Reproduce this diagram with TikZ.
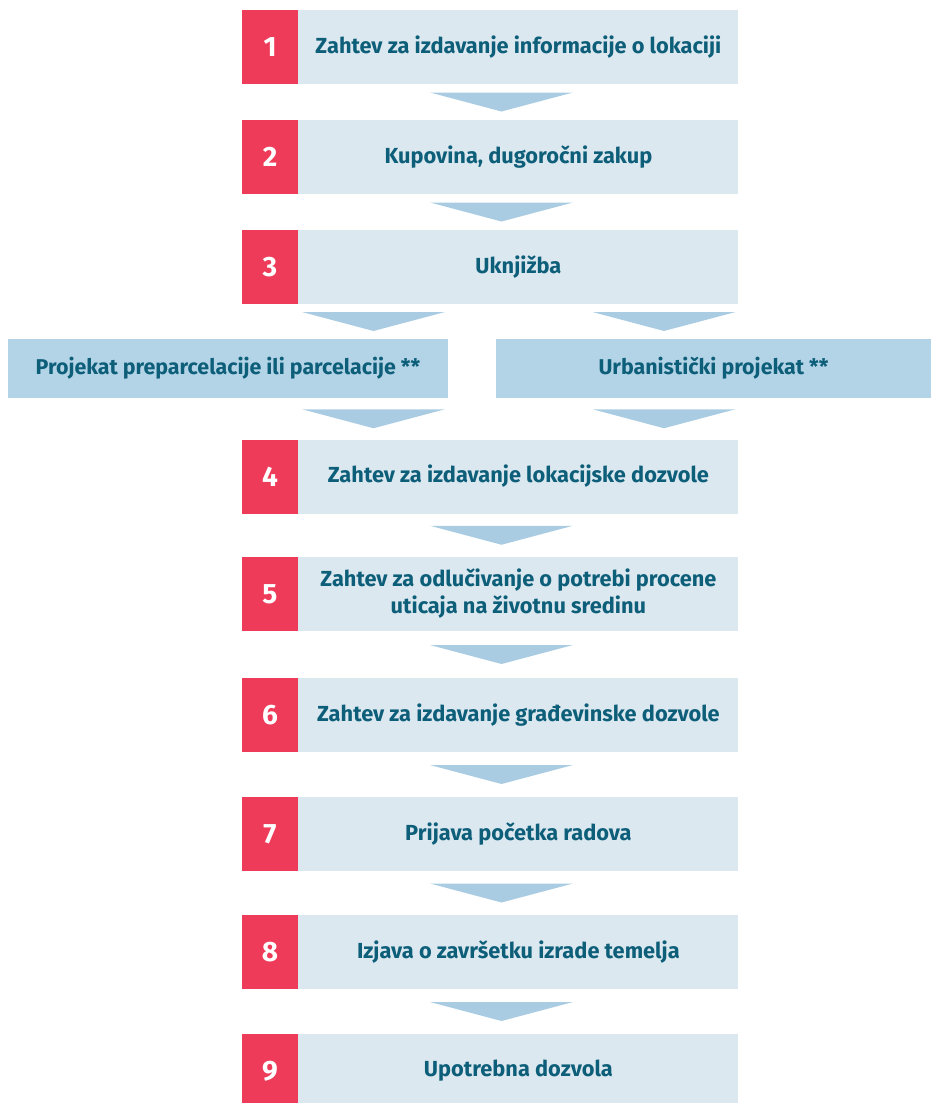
\documentclass[tikz,border=0pt]{standalone}
\usepackage{fontspec}
\setmainfont{Fira Sans}
\usetikzlibrary{positioning,calc}

\definecolor{stepred}{HTML}{EF3B5A}
\definecolor{boxblue}{HTML}{DCE8F0}
\definecolor{sideblue}{HTML}{B3D3E7}
\definecolor{arrowblue}{HTML}{A9CCE3}
\definecolor{textteal}{HTML}{0D5E79}

\tikzset{
	numbox/.style={fill=stepred, text=white, inner sep=0pt,
		minimum width=56pt, minimum height=74pt,
		font=\bfseries\fontsize{28}{30}\selectfont},
	stepbox/.style={fill=boxblue, text=textteal, inner sep=0pt,
		minimum width=440pt, minimum height=74pt, align=center,
		font=\bfseries\fontsize{21.8}{27}\selectfont},
	sidebox/.style={fill=sideblue, text=textteal, inner sep=0pt,
		minimum height=59pt, align=center,
		font=\bfseries\fontsize{21.4}{27}\selectfont},
	chev/.style={fill=arrowblue}
}

% chevron between two nodes, in the column of a coordinate
\newcommand{\chev}[3]{%
	\path ($(#2.south)!0.5!(#3.north)$) coordinate (m);
	\fill[chev] (#1 |- m) ++(-71.5,-9.5) -- ++(143,0) -- ++(-71.5,19) -- cycle;}

\begin{document}
\begin{tikzpicture}[x=1pt, y=-1pt]
	\useasboundingbox (0,0) rectangle (931,1103);
	\path
	coordinate (mid) at (501.5,0)
	coordinate (lft) at (373.5,0)
	coordinate (rgt) at (664,0)
	;
	% main steps
	\node[numbox] (n1) at (270,47) {1};
	\node[stepbox, right=0pt of n1] (s1) {Zahtev za izdavanje informacije o lokaciji};
	\node[numbox] (n2) at (270,157) {2};
	\node[stepbox, right=0pt of n2] (s2) {Kupovina, dugoročni zakup};
	\node[numbox] (n3) at (270,267) {3};
	\node[stepbox, right=0pt of n3] (s3) {Uknjižba};
	\node[numbox] (n4) at (270,476.5) {4};
	\node[stepbox, right=0pt of n4] (s4) {Zahtev za izdavanje lokacijske dozvole};
	\node[numbox] (n5) at (270,594) {5};
	\node[stepbox, right=0pt of n5] (s5) {Zahtev za odlučivanje o potrebi procene\\uticaja na životnu sredinu};
	\node[numbox] (n6) at (270,715) {6};
	\node[stepbox, right=0pt of n6] (s6) {Zahtev za izdavanje građevinske dozvole};
	\node[numbox] (n7) at (270,834) {7};
	\node[stepbox, right=0pt of n7] (s7) {Prijava početka radova};
	\node[numbox] (n8) at (270,952) {8};
	\node[stepbox, right=0pt of n8] (s8) {Izjava o završetku izrade temelja};
	\node[numbox] (n9) at (270,1071) {9};
	\node[stepbox, right=0pt of n9] (s9) {Upotrebna dozvola};
	% side projects
	\node[sidebox, minimum width=440pt] (pl) at (228,368.5) {Projekat preparcelacije ili parcelacije **};
	\node[sidebox, minimum width=435pt] (pr) at (713.5,368.5) {Urbanistički projekat **};
	% arrows
	\chev{mid}{s1}{s2}
	\chev{mid}{s2}{s3}
	\chev{lft}{s3}{pl}
	\chev{rgt}{s3}{pr}
	\chev{lft}{pl}{s4}
	\chev{rgt}{pr}{s4}
	\chev{mid}{s4}{s5}
	\chev{mid}{s5}{s6}
	\chev{mid}{s6}{s7}
	\chev{mid}{s7}{s8}
	\chev{mid}{s8}{s9}
\end{tikzpicture}
\end{document}
